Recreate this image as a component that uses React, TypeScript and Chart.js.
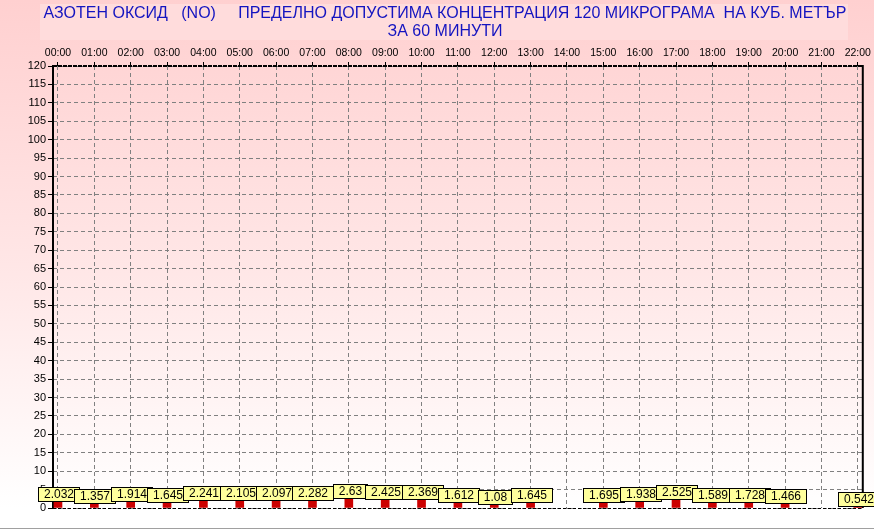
import React, { useEffect, useRef } from 'react';
import { Chart, registerables } from 'chart.js';

Chart.register(...registerables);

const titleLines = [
  'АЗОТЕН ОКСИД   (NO)     ПРЕДЕЛНО ДОПУСТИМА КОНЦЕНТРАЦИЯ 120 МИКРОГРАМА  НА КУБ. МЕТЪР',
  'ЗА 60 МИНУТИ',
];

const hours = [
  '00:00', '01:00', '02:00', '03:00', '04:00', '05:00', '06:00', '07:00',
  '08:00', '09:00', '10:00', '11:00', '12:00', '13:00', '14:00', '15:00',
  '16:00', '17:00', '18:00', '19:00', '20:00', '21:00', '22:00',
];

const values: (number | null)[] = [
  2.032, 1.357, 1.914, 1.645, 2.241, 2.105, 2.097, 2.282,
  2.63, 2.425, 2.369, 1.612, 1.08, 1.645, null, 1.695,
  1.938, 2.525, 1.589, 1.728, 1.466, null, 0.542,
];

const yMin = 0;
const yMax = 120;
const yStep = 5;

const FONT = '"Liberation Sans", Arial, sans-serif';

const backgroundPlugin = {
  id: 'bgPlugin',
  beforeDraw(chart: any) {
    const { ctx, width, height } = chart;
    ctx.save();
    const g = ctx.createLinearGradient(0, 0, 0, height);
    g.addColorStop(0, '#ffd0d0');
    g.addColorStop(0.5, '#ffe6e6');
    g.addColorStop(0.96, '#ffffff');
    g.addColorStop(1, '#ffffff');
    ctx.fillStyle = g;
    ctx.fillRect(0, 0, width, height);
    ctx.fillStyle = '#ffdcdc';
    ctx.fillRect(40, 4, 808, 36);
    ctx.fillStyle = '#a0a0a0';
    ctx.fillRect(0, height - 1, width, 1);
    ctx.restore();
  },
};

const framePlugin = {
  id: 'framePlugin',
  beforeDatasetsDraw(chart: any) {
    const { ctx, chartArea } = chart;
    const { left, right, top, bottom } = chartArea;
    ctx.save();
    ctx.strokeStyle = '#000';
    ctx.lineWidth = 1;
    ctx.setLineDash([3, 2]);
    ctx.beginPath();
    ctx.moveTo(left, bottom + 0.5);
    ctx.lineTo(right, bottom + 0.5);
    ctx.stroke();
    ctx.lineWidth = 2;
    ctx.setLineDash([4, 1]);
    ctx.beginPath();
    ctx.moveTo(left, top);
    ctx.lineTo(right, top);
    ctx.stroke();
    ctx.setLineDash([]);
    ctx.beginPath();
    ctx.moveTo(left, top - 1);
    ctx.lineTo(left, bottom + 1);
    ctx.moveTo(right, top - 1);
    ctx.lineTo(right, bottom);
    ctx.stroke();
    ctx.restore();
  },
};

const labelPlugin = {
  id: 'labelPlugin',
  afterDatasetsDraw(chart: any) {
    const { ctx } = chart;
    const meta = chart.getDatasetMeta(0);
    ctx.save();
    ctx.font = `12px ${FONT}`;
    ctx.textAlign = 'center';
    ctx.textBaseline = 'middle';
    meta.data.forEach((el: any, i: number) => {
      const v = values[i];
      if (v === null || v === undefined) return;
      const text = String(v);
      const tw = ctx.measureText(text).width;
      const w = Math.round(tw + 11);
      const h = 14;
      const cx = Math.round(el.x) + 0.5;
      const bx = Math.round(cx - w / 2);
      const by = Math.round(el.y - h);
      ctx.fillStyle = '#ffff9c';
      ctx.fillRect(bx, by, w, h);
      ctx.strokeStyle = '#000';
      ctx.lineWidth = 1;
      ctx.strokeRect(bx + 0.5, by + 0.5, w, h);
      ctx.fillStyle = '#000';
      ctx.fillText(text, bx + w / 2 + 0.5, by + h / 2 + 1);
    });
    ctx.restore();
  },
};

export default function App() {
  const ref = useRef<HTMLCanvasElement | null>(null);

  useEffect(() => {
    document.body.style.margin = '0';
    const canvas = ref.current;
    if (!canvas) return;
    const chart = new Chart(canvas, {
      type: 'bar',
      data: {
        datasets: [
          {
            data: values.map((v, i) => ({ x: i, y: v })) as any,
            backgroundColor: '#cc0000',
            borderWidth: 0,
            barThickness: 8,
          },
        ],
      },
      options: {
        responsive: false,
        animation: false,
        events: [],
        layout: { padding: { left: 25, right: 9, top: 0, bottom: 21 } },
        plugins: {
          legend: { display: false },
          tooltip: { enabled: false },
          title: {
            display: true,
            text: titleLines,
            color: '#1414c0',
            font: { size: 16, family: FONT, weight: 'normal', lineHeight: 1.125 },
            padding: { top: 5, bottom: 6 },
          },
        },
        scales: {
          x: {
            type: 'linear',
            position: 'top',
            offset: false,
            min: -0.137,
            max: 22.137,
            afterBuildTicks: (scale: any) => {
              scale.ticks = hours.map((_, i) => ({ value: i }));
            },
            afterFit: (scale: any) => {
              scale.height = 19;
            },
            ticks: {
              autoSkip: false,
              maxRotation: 0,
              padding: 3,
              color: '#000',
              font: { size: 10.5, family: FONT },
              callback: (v: any) => hours[v] ?? '',
            },
            grid: {
              offset: false,
              color: '#808080',
              lineWidth: 1,
              drawTicks: true,
              tickLength: 4,
              tickColor: '#000',
            },
            border: { display: false, dash: [4, 3] },
          },
          y: {
            min: yMin,
            max: yMax,
            afterFit: (scale: any) => {
              scale.width = 28;
            },
            ticks: {
              stepSize: yStep,
              padding: 2,
              color: '#000',
              font: { size: 11, family: FONT },
            },
            grid: {
              color: '#808080',
              lineWidth: 1,
              drawTicks: true,
              tickLength: 5,
              tickColor: '#000',
            },
            border: { display: false, dash: [4, 3] },
          },
        },
      },
      plugins: [backgroundPlugin, framePlugin, labelPlugin],
    });
    return () => chart.destroy();
  }, []);

  return (
    <div style={{ position: 'fixed', left: 0, top: 0, width: 874, height: 529 }}>
      <canvas ref={ref} width={874} height={529} style={{ display: 'block' }} />
    </div>
  );
}
